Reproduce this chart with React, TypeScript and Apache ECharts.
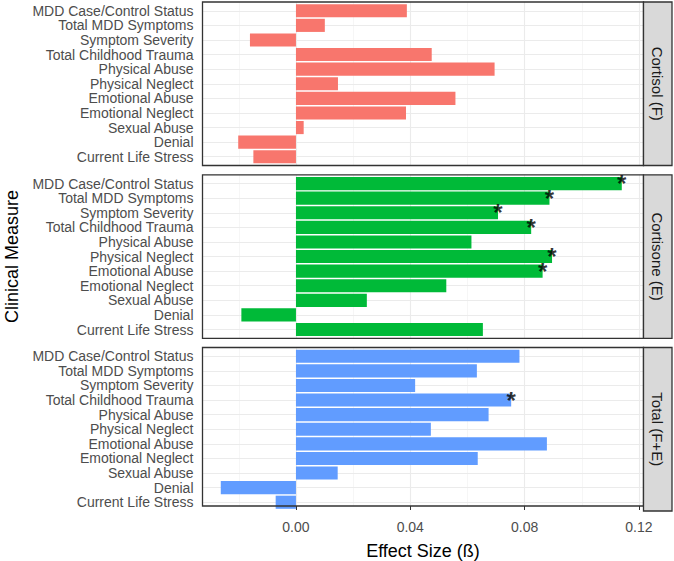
import React, { useEffect, useRef } from "react";
import * as echarts from "echarts";

const categories = [
  "MDD Case/Control Status",
  "Total MDD Symptoms",
  "Symptom Severity",
  "Total Childhood Trauma",
  "Physical Abuse",
  "Physical Neglect",
  "Emotional Abuse",
  "Emotional Neglect",
  "Sexual Abuse",
  "Denial",
  "Current Life Stress",
];

const panelNames = ["Cortisol (F)", "Cortisone (E)", "Total (F+E)"];
const panelColors = ["#F8766D", "#00BA38", "#619CFF"];

const cortisol = [0.0388, 0.0101, -0.0161, 0.0475, 0.0695, 0.0147, 0.0558, 0.0385, 0.0027, -0.0202, -0.0149];
const cortisone = [0.114, 0.0887, 0.0707, 0.0823, 0.0614, 0.0896, 0.0863, 0.0526, 0.0248, -0.0191, 0.0654];
const total = [0.0782, 0.0633, 0.0417, 0.0753, 0.0674, 0.0472, 0.0878, 0.0636, 0.0146, -0.0263, -0.0071];

const cortisolSig = [0, 0, 0, 0, 0, 0, 0, 0, 0, 0, 0];
const cortisoneSig = [1, 1, 1, 1, 0, 1, 1, 0, 0, 0, 0];
const totalSig = [0, 0, 0, 1, 0, 0, 0, 0, 0, 0, 0];

const majorTicks = [0, 0.04, 0.08, 0.12];
const minorTicks = [-0.02, 0.02, 0.06, 0.1];

const XMIN = -0.0327;
const XMAX = 0.1216;

export default function App() {
  const ref = useRef<HTMLDivElement>(null);

  useEffect(() => {
    if (!ref.current) return;
    const chart = echarts.init(ref.current, null, { renderer: "svg" });
    const values = [cortisol, cortisone, total];
    const sigs = [cortisolSig, cortisoneSig, totalSig];

    const W = 674;
    const left = 202.5;
    const rightEdge = 643.5;
    const panelTops = [2, 174.8, 347.5];
    const panelH = 163.5;
    const inset = (panelH * 0.1) / 11.2;
    const innerH = (panelH * 11) / 11.2;

    const grids: any[] = [];
    const xAxes: any[] = [];
    const yAxes: any[] = [];
    const series: any[] = [];
    const graphics: any[] = [];

    panelTops.forEach((top, p) => {
      grids.push({
        left,
        top,
        width: rightEdge - left,
        height: panelH,
        show: true,
        borderColor: "#333333",
        borderWidth: 1.3,
        backgroundColor: "transparent",
        z: 3,
      });
      grids.push({
        left,
        top: top + inset,
        width: rightEdge - left,
        height: innerH,
      });
      const isBottom = p === 2;
      xAxes.push({
        type: "value",
        gridIndex: 2 * p,
        min: XMIN,
        max: XMAX,
        show: isBottom,
        axisLine: { show: false },
        splitLine: { show: false },
        axisTick: {
          show: true,
          customValues: majorTicks,
          length: 4,
          lineStyle: { color: "#333333", width: 1 },
        },
        axisLabel: {
          show: true,
          customValues: majorTicks,
          formatter: (v: number) => v.toFixed(2),
          color: "#4D4D4D",
          fontSize: 14,
          margin: 14,
        },
        name: isBottom ? "Effect Size (ß)" : "",
        nameLocation: "middle",
        nameGap: 36,
        nameTextStyle: { color: "#000000", fontSize: 18 },
      });
      xAxes.push({
        type: "value",
        gridIndex: 2 * p + 1,
        min: XMIN,
        max: XMAX,
        show: false,
      });
      yAxes.push({
        type: "value",
        gridIndex: 2 * p,
        min: 0,
        max: 1,
        show: false,
      });
      yAxes.push({
        type: "category",
        gridIndex: 2 * p + 1,
        data: categories,
        inverse: true,
        axisLine: { show: false },
        splitLine: { show: false },
        axisTick: {
          show: true,
          alignWithLabel: true,
          interval: 0,
          length: 4,
          lineStyle: { color: "#333333", width: 1 },
        },
        axisLabel: { color: "#4D4D4D", fontSize: 14, lineHeight: 14, margin: 9, interval: 0 },
      });

      series.push({
        type: "scatter",
        xAxisIndex: 2 * p,
        yAxisIndex: 2 * p,
        data: [[0, 0.5]],
        symbolSize: 1,
        itemStyle: { color: "transparent" },
        silent: true,
        z: 1,
        markLine: {
          silent: true,
          z: 1,
          symbol: ["none", "none"],
          label: { show: false },
          animation: false,
          data: [
            ...minorTicks.map((v) => ({ xAxis: v, lineStyle: { color: "#F0F0F0", width: 0.6, type: "solid" } })),
            ...majorTicks.map((v) => ({ xAxis: v, lineStyle: { color: "#EBEBEB", width: 1.1, type: "solid" } })),
          ],
        },
      });
      series.push({
        type: "scatter",
        xAxisIndex: 2 * p + 1,
        yAxisIndex: 2 * p + 1,
        data: [[0, 0]],
        symbolSize: 1,
        itemStyle: { color: "transparent" },
        silent: true,
        z: 1,
        markLine: {
          silent: true,
          z: 1,
          symbol: ["none", "none"],
          label: { show: false },
          animation: false,
          lineStyle: { color: "#EBEBEB", width: 1.1, type: "solid" },
          data: categories.map((_, i) => ({ yAxis: i })),
        },
      });
      series.push({
        type: "bar",
        name: panelNames[p],
        xAxisIndex: 2 * p + 1,
        yAxisIndex: 2 * p + 1,
        data: values[p],
        barWidth: "90%",
        itemStyle: { color: panelColors[p] },
        z: 2,
      });
      series.push({
        type: "scatter",
        xAxisIndex: 2 * p + 1,
        yAxisIndex: 2 * p + 1,
        data: values[p]
          .map((v, i) => [v, i, sigs[p][i]])
          .filter((d) => d[2] === 1)
          .map((d) => [d[0], d[1]]),
        symbolSize: 1,
        itemStyle: { color: "transparent" },
        z: 4,
        label: {
          show: true,
          position: "inside",
          formatter: "*",
          color: "#000000",
          fontSize: 24,
          fontWeight: "bold",
        },
      });

      graphics.push({
        type: "rect",
        shape: { x: rightEdge, y: top, width: W - 2 - rightEdge, height: panelH },
        style: { fill: "#D9D9D9", stroke: "#333333", lineWidth: 1.3 },
        z: 5,
      });
      graphics.push({
        type: "text",
        x: (rightEdge + W - 2) / 2,
        y: top + panelH / 2,
        rotation: -Math.PI / 2,
        style: {
          text: panelNames[p],
          fill: "#1A1A1A",
          fontSize: 15,
          fontFamily: "Liberation Sans",
          textAlign: "center",
          textVerticalAlign: "middle",
        },
        z: 6,
      });
    });

    graphics.push({
      type: "text",
      x: 12,
      y: panelTops[0] + (panelTops[2] + panelH - panelTops[0]) / 2,
      rotation: Math.PI / 2,
      style: {
        text: "Clinical Measure",
        fill: "#000000",
        fontSize: 18,
        fontFamily: "Liberation Sans",
        textAlign: "center",
        textVerticalAlign: "middle",
      },
      z: 6,
    });

    chart.setOption({
      animation: false,
      backgroundColor: "#FFFFFF",
      textStyle: { fontFamily: "Liberation Sans" },
      grid: grids,
      xAxis: xAxes,
      yAxis: yAxes,
      series,
      graphic: graphics,
    });

    return () => chart.dispose();
  }, []);

  return (
    <div
      ref={ref}
      style={{ position: "fixed", left: 0, top: 0, width: 674, height: 561 }}
    />
  );
}
